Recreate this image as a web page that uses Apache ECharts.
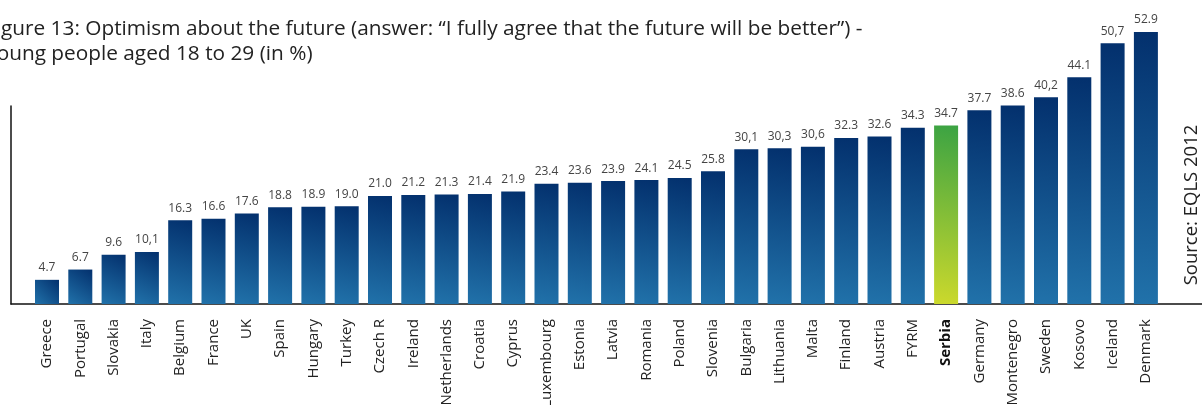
<!doctype html>
<html>
<head>
<meta charset="UTF-8">
<title>Optimism about the future</title>
<script src="https://cdn.jsdelivr.net/npm/echarts@6/dist/echarts.min.js"></script>
<style>
html,body{margin:0;padding:0;background:#fff;}
#main{width:1202px;height:405px;}
</style>
</head>
<body>
<div id="main"></div>
<script>
// data
var countries = ['Greece','Portugal','Slovakia','Italy','Belgium','France','UK','Spain','Hungary','Turkey',
	'Czech R','Ireland','Netherlands','Croatia','Cyprus','Luxembourg','Estonia','Latvia','Romania','Poland',
	'Slovenia','Bulgaria','Lithuania','Malta','Finland','Austria','FYRM','Serbia','Germany','Montenegro',
	'Sweden','Kosovo','Iceland','Denmark'];
var values = [4.7,6.7,9.6,10.1,16.3,16.6,17.6,18.8,18.9,19.0,
	21.0,21.2,21.3,21.4,21.9,23.4,23.6,23.9,24.1,24.5,
	25.8,30.1,30.3,30.6,32.3,32.6,34.3,34.7,37.7,38.6,
	40.2,44.1,50.7,52.9];
// labels as printed (the source mixes comma and point)
var valueLabels = ['4.7','6.7','9.6','10,1','16.3','16.6','17.6','18.8','18.9','19.0',
	'21.0','21.2','21.3','21.4','21.9','23.4','23.6','23.9','24.1','24.5',
	'25.8','30,1','30,3','30,6','32.3','32.6','34.3','34.7','37.7','38.6',
	'40,2','44.1','50,7','52.9'];
var highlight = 'Serbia';

var font = '"Open Sans", "Noto Sans", sans-serif';
var blue = new echarts.graphic.LinearGradient(1, 0, 0, 1, [
	{offset: 0, color: '#03306d'},
	{offset: 1, color: '#2172aa'}
]);
var green = new echarts.graphic.LinearGradient(1, 0, 0, 1, [
	{offset: 0, color: '#3ba343'},
	{offset: 1, color: '#ccd92c'}
]);

var barData = values.map(function (v, i) {
	return {
		value: v,
		itemStyle: {color: countries[i] === highlight ? green : blue}
	};
});

var myChart = echarts.init(document.getElementById('main'), null, {renderer: 'canvas'});
var option = {
	animation: false,
	textStyle: {fontFamily: font},
	title: {
		text: 'Figure 13: Optimism about the future (answer: \u201cI fully agree that the future will be better\u201d) -\nYoung people aged 18 to 29 (in %)',
		left: -20,
		top: 12,
		textStyle: {fontFamily: font, fontSize: 20.8, fontWeight: 'normal', color: '#222', lineHeight: 25}
	},
	grid: [
		// bars
		{left: 30.35, right: 39.45, top: 32, bottom: 101, outerBoundsMode: 'none'},
		// frame lines only
		{left: 11, right: 0, top: 106, bottom: 101, outerBoundsMode: 'none'}
	],
	xAxis: [
		{
			type: 'category', gridIndex: 0, data: countries,
			axisLine: {show: false}, axisTick: {show: false},
			axisLabel: {
				interval: 0, rotate: 90, margin: 15, fontSize: 15, color: '#222', fontFamily: font,
				formatter: function (v) { return v === highlight ? '{b|' + v + '}' : v; },
				rich: {b: {fontWeight: 'bold', fontSize: 15, color: '#111', fontFamily: font}}
			}
		},
		{
			type: 'value', gridIndex: 1, min: 0, max: 1,
			axisLine: {show: true, onZero: false, lineStyle: {color: '#111', width: 1.5}},
			axisTick: {show: false}, axisLabel: {show: false}, splitLine: {show: false}
		}
	],
	yAxis: [
		{
			type: 'value', gridIndex: 0, min: 0, max: 52.9,
			axisLine: {show: false}, axisTick: {show: false}, axisLabel: {show: false}, splitLine: {show: false}
		},
		{
			type: 'value', gridIndex: 1, min: 0, max: 1,
			axisLine: {show: true, lineStyle: {color: '#111', width: 1.5}},
			axisTick: {show: false}, axisLabel: {show: false}, splitLine: {show: false}
		}
	],
	series: [{
		type: 'bar',
		xAxisIndex: 0, yAxisIndex: 0,
		barWidth: 24,
		z: 3,
		data: barData,
		label: {
			show: true, position: 'top', distance: 6,
			fontSize: 12, color: '#444', fontFamily: font,
			formatter: function (p) { return valueLabels[p.dataIndex]; }
		}
	}],
	graphic: [{
		type: 'text',
		x: 1192, y: 205,
		rotation: Math.PI / 2,
		style: {
			text: 'Source: EQLS 2012',
			font: '18.5px ' + font,
			fill: '#222',
			textAlign: 'center',
			textVerticalAlign: 'middle'
		}
	}]
};
myChart.setOption(option);
</script>
</body>
</html>
